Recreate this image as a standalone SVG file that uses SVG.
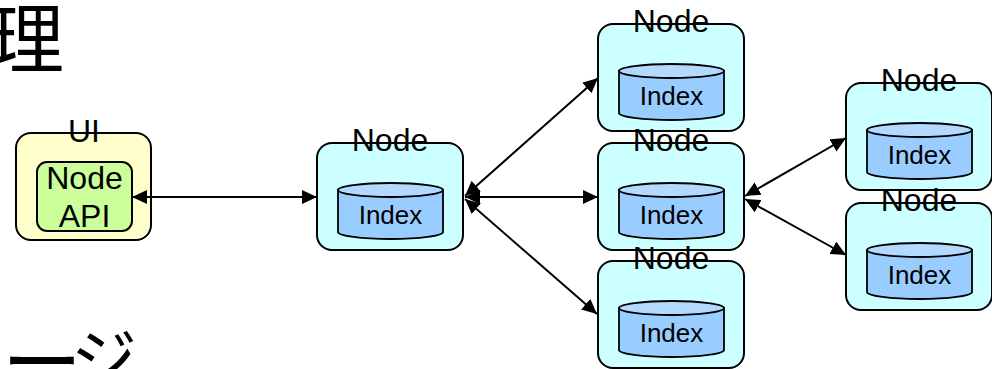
<svg xmlns="http://www.w3.org/2000/svg" width="992" height="369" viewBox="0 0 992 369">
<style>
.box{fill:#ccffff;stroke:#000;stroke-width:2}
.cyl{fill:#99ccff;stroke:#000;stroke-width:1.8}
.cyltop{fill:#b3d9ff;stroke:#000;stroke-width:1.8}
.lbl{font-family:"Liberation Sans",Arial,sans-serif;font-size:32px;text-anchor:middle;fill:#000}
.idx{font-family:"Liberation Sans",Arial,sans-serif;font-size:26px;text-anchor:middle;fill:#000}
.big{font-family:"Noto Sans CJK JP","Noto Sans CJK SC",sans-serif;font-size:76px;fill:#000}
.conn{stroke:#000;stroke-width:2;fill:none;marker-start:url(#ah);marker-end:url(#ah)}
</style>
<defs>
<marker id="ah" viewBox="0 0 15 14" refX="15" refY="7" markerWidth="15" markerHeight="14" markerUnits="userSpaceOnUse" orient="auto-start-reverse">
<path d="M0,0 L15,7 L0,14 Z" fill="#000"/>
</marker>
<g id="nodeShape">
<rect class="box" x="0" y="0" width="146" height="107" rx="15" ry="15"/>
<path class="cyl" d="M21,47 V89 A52.5,7 0 0 0 126,89 V47 Z"/>
<ellipse class="cyltop" cx="73.5" cy="47" rx="52.5" ry="7"/>
<text class="lbl" x="73" y="8">Node</text>
<text class="idx" x="73.5" y="81">Index</text>
</g>
</defs>
<text class="big" x="-12" y="67">理</text>
<text class="big"><tspan x="2" y="391" font-size="80">ー</tspan><tspan x="71" y="383" font-size="66">ジ</tspan></text>
<g id="ui">
<rect x="16" y="133" width="135" height="107" rx="15" ry="15" fill="#ffffcc" stroke="#000" stroke-width="2"/>
<text class="lbl" x="84" y="142">UI</text>
<g id="nodeapi">
<rect x="37" y="162" width="95" height="69" rx="10" ry="10" fill="#ccff99" stroke="#000" stroke-width="2"/>
<text class="lbl" x="84.5" y="189">Node</text>
<text class="lbl" x="84.5" y="227">API</text>
</g>
</g>
<g id="node0" transform="translate(317,143)"><use href="#nodeShape"/></g>
<g id="node1" transform="translate(598,24)"><use href="#nodeShape"/></g>
<g id="node2" transform="translate(598,143)"><use href="#nodeShape"/></g>
<g id="node3" transform="translate(598,261)"><use href="#nodeShape"/></g>
<g id="node4" transform="translate(846,83)"><use href="#nodeShape"/></g>
<g id="node5" transform="translate(846,203)"><use href="#nodeShape"/></g>
<g id="connectors">
<line class="conn" x1="132" y1="197" x2="317" y2="197"/>
<line class="conn" x1="465" y1="196" x2="598" y2="78"/>
<line class="conn" x1="465" y1="197" x2="598" y2="197"/>
<line class="conn" x1="465" y1="199" x2="597" y2="314"/>
<line class="conn" x1="745" y1="196" x2="846" y2="138"/>
<line class="conn" x1="745" y1="199" x2="846" y2="255"/>
</g>
</svg>
